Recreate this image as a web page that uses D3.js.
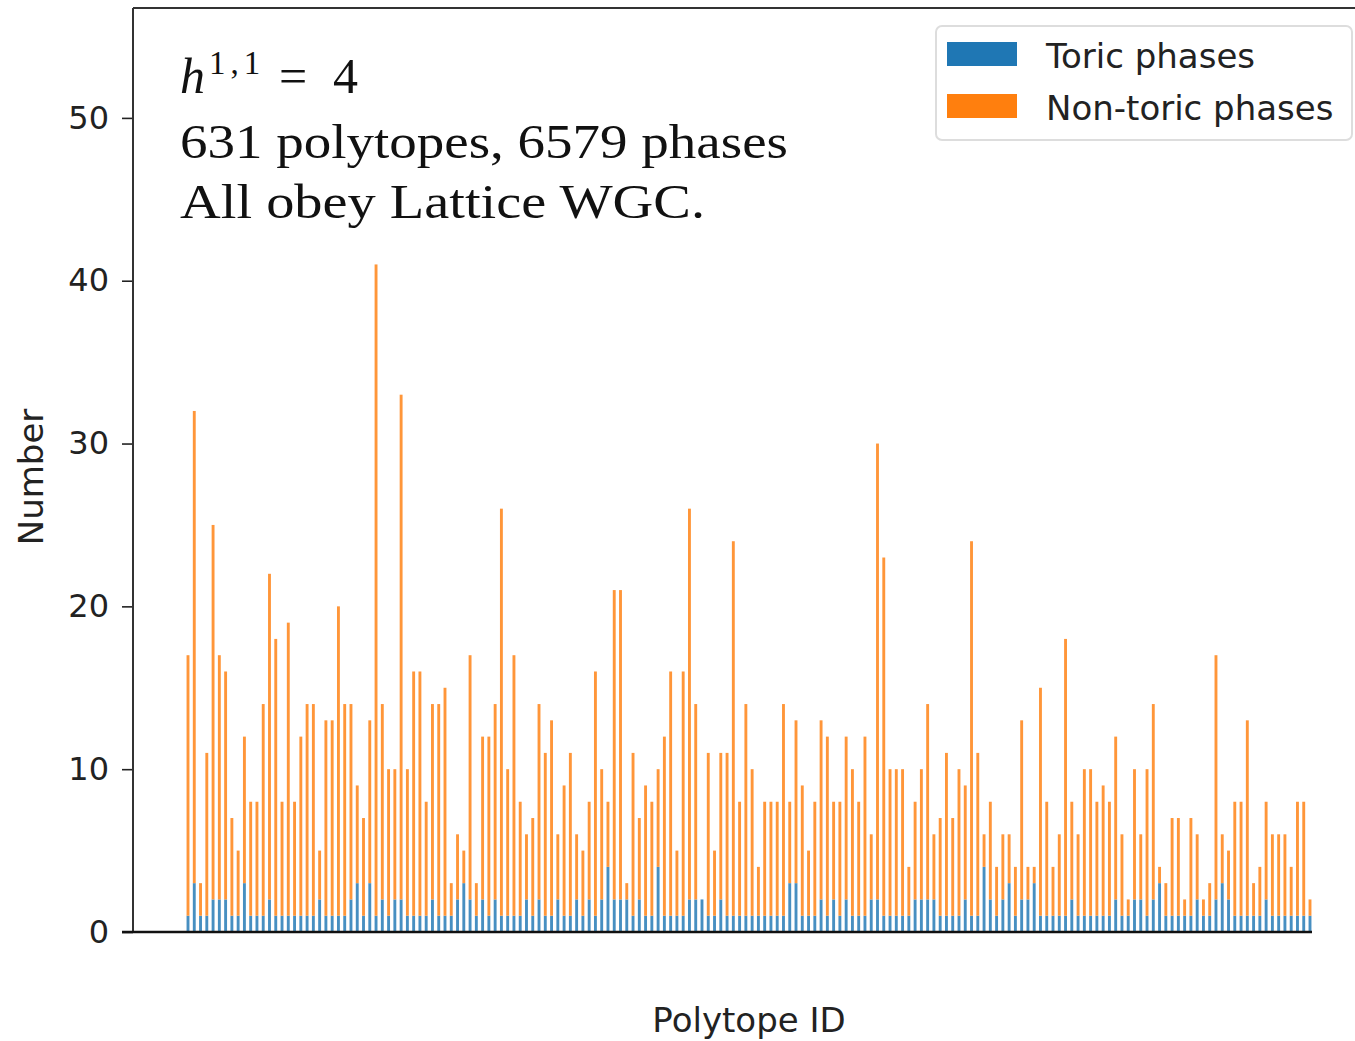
<!DOCTYPE html>
<html>
<head>
<meta charset="utf-8">
<script src="https://cdn.jsdelivr.net/npm/d3@7"></script>
<style>
  body { margin: 0; background: #fff; }
  svg { display: block; }
</style>
</head>
<body>
<svg id="chart" width="1355" height="1041"></svg>
<script>
// total phases per polytope, read left to right
const totals = [
  17, 32, 3, 11, 25, 17, 16, 7, 5, 12, 8, 8, 14, 22, 18, 8, 19, 8, 12, 14, 14, 5,
  13, 13, 20, 14, 14, 9, 7, 13, 41, 14, 10, 10, 33, 10, 16, 16, 8, 14, 14, 15, 3, 6, 5,
  17, 3, 12, 12, 14, 26, 10, 17, 8, 6, 7, 14, 11, 13, 6, 9, 11, 6, 5, 8, 16, 10,
  8, 21, 21, 3, 11, 7, 9, 8, 10, 12, 16, 5, 16, 26, 14, 2, 11, 5, 11, 11, 24, 8,
  14, 10, 4, 8, 8, 8, 14, 8, 13, 9, 5, 8, 13, 12, 8, 8, 12, 10, 8, 12, 6, 30, 23,
  10, 10, 10, 4, 8, 10, 14, 6, 7, 11, 7, 10, 9, 24, 11, 6, 8, 4, 6, 6, 4, 13,
  4, 4, 15, 8, 4, 6, 18, 8, 6, 10, 10, 8, 9, 8, 12, 6, 2, 10, 6, 10, 14, 4,
  3, 7, 7, 2, 7, 6, 2, 3, 17, 6, 5, 8, 8, 13, 3, 4, 8, 6, 6, 6, 4, 8, 8, 2
];

// toric phases per polytope
const toric = [
  1, 3, 1, 1, 2, 2, 2, 1, 1, 3, 1, 1, 1, 2, 1, 1, 1, 1, 1, 1, 1, 2,
  1, 1, 1, 1, 2, 3, 1, 3, 1, 2, 1, 2, 2, 1, 1, 1, 1, 2, 1, 1, 1, 2, 3,
  2, 1, 2, 1, 2, 1, 1, 1, 1, 2, 1, 2, 1, 1, 2, 1, 1, 2, 1, 2, 1, 2,
  4, 2, 2, 2, 1, 2, 1, 1, 4, 1, 1, 1, 1, 2, 2, 2, 1, 1, 2, 1, 1, 1,
  1, 1, 1, 1, 1, 1, 1, 3, 3, 1, 1, 1, 2, 1, 2, 1, 2, 1, 1, 1, 2, 2, 1,
  1, 1, 1, 1, 2, 2, 2, 2, 1, 1, 1, 1, 2, 1, 1, 4, 2, 1, 2, 3, 1, 2,
  2, 3, 1, 1, 1, 1, 1, 2, 1, 1, 1, 1, 1, 1, 2, 1, 1, 2, 2, 1, 2, 3,
  1, 1, 1, 1, 1, 2, 1, 1, 2, 3, 2, 1, 1, 1, 1, 1, 2, 1, 1, 1, 1, 1, 1, 1
];

const yTicks = [0, 10, 20, 30, 40, 50];
const seriesNames = ["Toric phases", "Non-toric phases"];
const seriesColors = ["#1f77b4", "#ff7f0e"];
const noteLines = ["631 polytopes, 6579 phases", "All obey Lattice WGC."];

const svg = d3.select("#chart");
const frame = { left: 133, top: 8, bottom: 932, right: 1355 };

const rows = totals.map((t, i) => ({ i, toric: toric[i], nontoric: t - toric[i] }));
const stacked = d3.stack().keys(["toric", "nontoric"])(rows);

const x = d3.scaleLinear().domain([0, totals.length - 1]).range([188, 1310]);
const step = x(1) - x(0);
const y = d3.scaleLinear().domain([0, 56.75]).range([frame.bottom, frame.top]);

// bars (thin and a little soft, like the scaled-down original)
svg.append("g")
  .attr("opacity", 0.82)
  .selectAll("g")
  .data(stacked)
  .join("g")
  .attr("fill", (d, k) => seriesColors[k])
  .selectAll("rect")
  .data((d) => d)
  .join("rect")
  .attr("x", (d) => x(d.data.i) - step * 0.23)
  .attr("width", step * 0.46)
  .attr("y", (d) => y(d[1]))
  .attr("height", (d) => y(d[0]) - y(d[1]));

// y axis
const yAxis = svg.append("g")
  .attr("transform", `translate(${frame.left},0)`)
  .call(d3.axisLeft(y).tickValues(yTicks).tickSize(11).tickPadding(13));
yAxis.select(".domain").remove();
yAxis.selectAll("line").attr("stroke", "#222").attr("stroke-width", 1.6);
yAxis.selectAll("text")
  .attr("font-family", "DejaVu Sans")
  .attr("font-size", 32)
  .attr("fill", "#222");

// spines
svg.append("line")
  .attr("x1", frame.left).attr("x2", frame.left)
  .attr("y1", frame.top).attr("y2", frame.bottom)
  .attr("stroke", "#333").attr("stroke-width", 2);
svg.append("line")
  .attr("x1", frame.left).attr("x2", frame.right)
  .attr("y1", frame.top).attr("y2", frame.top)
  .attr("stroke", "#333").attr("stroke-width", 2);
svg.append("line")
  .attr("x1", frame.left - 11).attr("x2", 1312)
  .attr("y1", y(0)).attr("y2", y(0))
  .attr("stroke", "#111").attr("stroke-width", 2.4);

// axis labels
svg.append("text")
  .attr("x", 749).attr("y", 1032)
  .attr("text-anchor", "middle")
  .attr("font-family", "DejaVu Sans").attr("font-size", 34)
  .attr("fill", "#222")
  .text("Polytope ID");
svg.append("text")
  .attr("transform", "translate(43,477) rotate(-90)")
  .attr("text-anchor", "middle")
  .attr("font-family", "DejaVu Sans").attr("font-size", 34)
  .attr("fill", "#222")
  .text("Number");

// annotation
const note = svg.append("g")
  .attr("font-family", "Liberation Serif, DejaVu Serif, serif")
  .attr("fill", "#111");
note.append("text").attr("x", 180).attr("y", 93)
  .attr("font-size", 50).attr("font-style", "italic").text("h");
note.append("text").attr("x", 209).attr("y", 74)
  .attr("font-size", 33).attr("letter-spacing", 5).text("1,1");
note.append("text").attr("x", 279).attr("y", 93)
  .attr("font-size", 50).text("=");
note.append("text").attr("x", 333).attr("y", 93)
  .attr("font-size", 50).text("4");
note.selectAll("text.line")
  .data(noteLines)
  .join("text")
  .attr("class", "line")
  .attr("x", 180)
  .attr("y", (d, k) => 158 + k * 60)
  .attr("font-size", 49)
  .attr("textLength", (d, k) => [608, 525][k])
  .attr("lengthAdjust", "spacingAndGlyphs")
  .text((d) => d);

// legend
const legend = svg.append("g");
legend.append("rect")
  .attr("x", 936).attr("y", 26).attr("width", 416).attr("height", 114)
  .attr("rx", 6)
  .attr("fill", "#fff").attr("stroke", "#ddd").attr("stroke-width", 2);
const items = legend.selectAll("g.item")
  .data(seriesNames)
  .join("g")
  .attr("class", "item")
  .attr("transform", (d, k) => `translate(0,${k * 52})`);
items.append("rect")
  .attr("x", 947).attr("y", 42).attr("width", 70).attr("height", 24)
  .attr("fill", (d, k) => seriesColors[k]);
items.append("text")
  .attr("x", 1046).attr("y", 68)
  .attr("font-family", "DejaVu Sans").attr("font-size", 34)
  .attr("fill", "#222")
  .text((d) => d);
</script>
</body>
</html>
